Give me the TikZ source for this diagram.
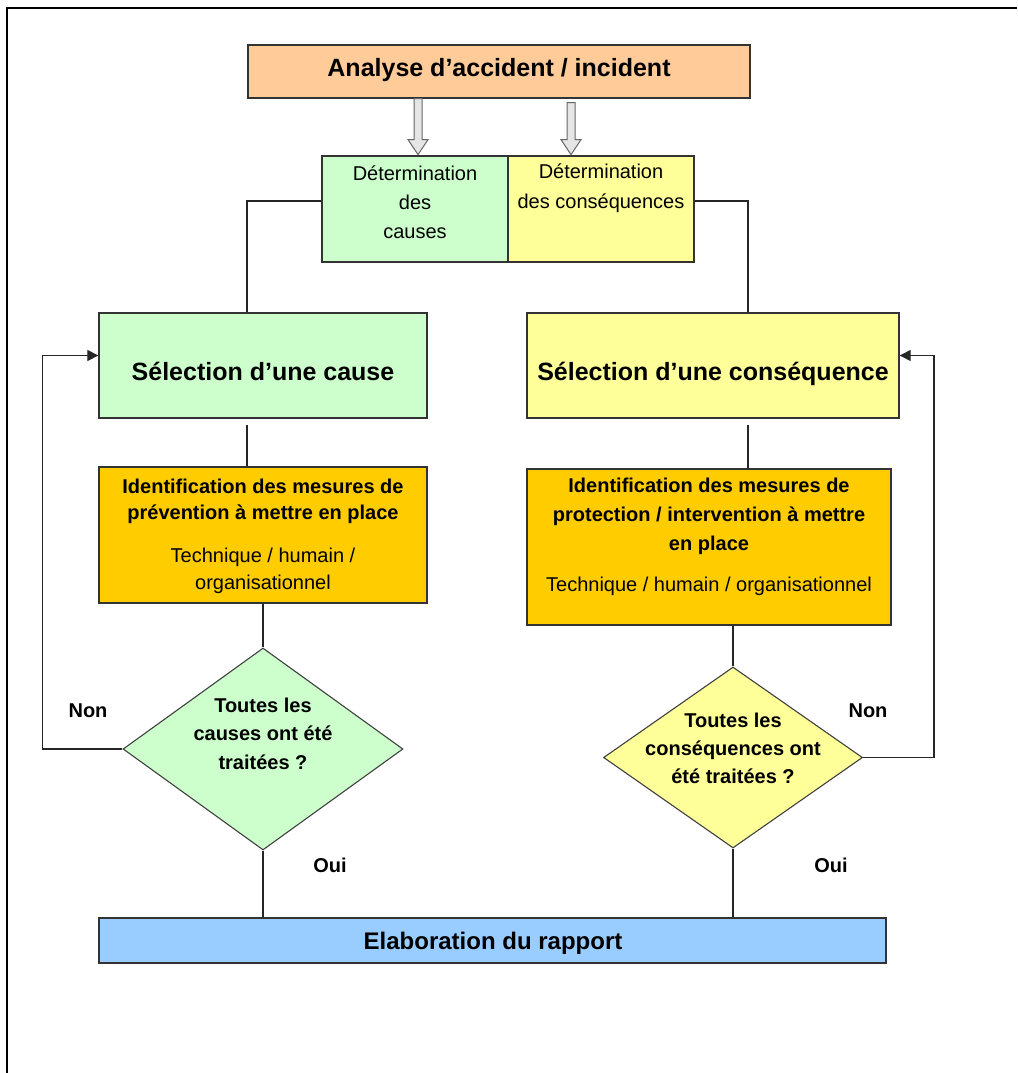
\documentclass[tikz,border=0pt]{standalone}
\usepackage{fontspec}
\setmainfont{Liberation Sans}
\usetikzlibrary{shapes.geometric,arrows.meta,calc}
\definecolor{cOrange}{HTML}{FFCC99}
\definecolor{cGreen}{HTML}{CCFFCC}
\definecolor{cYellow}{HTML}{FFFF99}
\definecolor{cGold}{HTML}{FFCC00}
\definecolor{cBlue}{HTML}{99CCFF}
\begin{document}
\begin{tikzpicture}[x=1pt,y=-1pt,
  box/.style={draw=black!80,line width=1.3pt,rectangle,inner sep=0pt},
  dia/.style={draw=black!75,line width=1.1pt,diamond,inner sep=0pt},
  txt/.style={align=center,inner sep=0pt},
  bigB/.style={font=\fontsize{25}{30}\selectfont\bfseries},
  rapB/.style={font=\fontsize{24}{30}\selectfont\bfseries},
  conn/.style={line width=1.2pt,draw=black!85},
  arr/.style={conn,-{Triangle[length=11pt,width=11pt]}},
  hollow/.style={draw=black!60,line width=1pt,fill=black!10,line join=miter}]
\useasboundingbox (0,0) rectangle (1017,1073);
% frame
\coordinate (fTL) at (7,8);
\coordinate (fTR) at (1017,8);
\coordinate (fBL) at (7,1073);
\draw[line width=2.2pt] (fBL) -- (fTL) -- (fTR);

% boxes
\node[box,fill=cOrange,minimum width=502pt,minimum height=53pt] (ana) at (499,71.5) {};
\node[bigB,anchor=base] (anaT) at (499,77) {Analyse d’accident / incident};

\node[box,fill=cGreen,minimum width=186pt,minimum height=106pt] (detL) at (415,209) {};
\node[box,fill=cYellow,minimum width=186pt,minimum height=106pt] (detR) at (601,209) {};
\node[txt,font=\fontsize{20}{29}\selectfont] (detLT) at (415,202) {Détermination\\des\\causes};
\node[txt,font=\fontsize{20}{30}\selectfont] (detRT) at (601,188) {Détermination\\des conséquences};

\node[box,fill=cGreen,minimum width=328pt,minimum height=105pt] (selC) at (263,365.5) {};
\node[bigB,anchor=base] (selCT) at (263,380) {Sélection d’une cause};
\node[box,fill=cYellow,minimum width=372pt,minimum height=105pt] (selR) at (713,365.5) {};
\node[bigB,anchor=base] (selRT) at (713,380) {Sélection d’une conséquence};

\node[box,fill=cGold,minimum width=328pt,minimum height=136pt] (identL) at (263,535) {};
\node[txt,font=\fontsize{20}{26}\selectfont\bfseries] (identLT1) at (263,501) {Identification des mesures de\\prévention à mettre en place};
\node[txt,font=\fontsize{20}{27}\selectfont] (identLT2) at (263,570.5) {Technique / humain /\\organisationnel};

\node[box,fill=cGold,minimum width=364pt,minimum height=156pt] (identR) at (709,547) {};
\node[txt,font=\fontsize{20}{29}\selectfont\bfseries] (identRT1) at (709,516) {Identification des mesures de\\protection / intervention à mettre\\en place};
\node[txt,font=\fontsize{20}{27}\selectfont] (identRT2) at (709,586) {Technique / humain / organisationnel};

\node[dia,fill=cGreen,minimum width=280pt,minimum height=202pt] (diaL) at (263,749) {};
\node[txt,font=\fontsize{20}{28.5}\selectfont\bfseries] (diaLT) at (263,733.5) {Toutes les\\causes ont été\\traitées ?};
\node[dia,fill=cYellow,minimum width=259pt,minimum height=181pt] (diaR) at (733,757.5) {};
\node[txt,font=\fontsize{20}{28}\selectfont\bfseries] (diaRT) at (733,748) {Toutes les\\conséquences ont\\été traitées ?};

\node[box,fill=cBlue,minimum width=787pt,minimum height=45pt] (rap) at (492.5,940.5) {};
\node[rapB,anchor=base] (rapT) at (493,949) {Elaboration du rapport};

% labels
\node[font=\fontsize{20}{24}\selectfont\bfseries,anchor=base] (nonL) at (88,717) {Non};
\node[font=\fontsize{20}{24}\selectfont\bfseries,anchor=base] (nonR) at (868,717) {Non};
\node[font=\fontsize{20}{24}\selectfont\bfseries,anchor=base] (ouiL) at (330,872) {Oui};
\node[font=\fontsize{20}{24}\selectfont\bfseries,anchor=base] (ouiR) at (831,872) {Oui};

% hollow arrows
\coordinate (h1) at ([xshift=-81pt]ana.south);
\coordinate (h2) at ([xshift=72pt,yshift=-4pt]ana.south);
\draw[hollow] (h1) ++(-4,0) -- ++(0,41) -- ++(-6,0) -- ++(10,15) -- ++(10,-15) -- ++(-6,0) -- ++(0,-41) -- cycle;
\draw[hollow] (h2) ++(-4,0) -- ++(0,37) -- ++(-6,0) -- ++(10,15) -- ++(10,-15) -- ++(-6,0) -- ++(0,-37) -- cycle;

% connectors
\draw[conn] ([yshift=8pt]detL.west) -| ([xshift=-16pt]selC.north);
\draw[conn] ([yshift=8pt]detR.east) -| ([xshift=35pt]selR.north);
\draw[conn] ([xshift=-16pt,yshift=-6pt]selC.south) -- ([xshift=-16pt]identL.north);
\draw[conn] ([xshift=35pt,yshift=-6pt]selR.south) -- ([xshift=39pt]identR.north);
\draw[conn] (identL.south) -- (diaL.north);
\draw[conn] ([xshift=24pt]identR.south) -- (diaR.north);
\draw[arr] (diaL.west) -- ++(-80,0) |- ([yshift=10pt]selC.west);
\draw[arr] (diaR.east) -- ++(71,0) |- ([yshift=10pt]selR.east);
\draw[conn] (diaL.south) -- (diaL.south |- rap.north);
\draw[conn] (diaR.south) -- (diaR.south |- rap.north);
\end{tikzpicture}
\end{document}
